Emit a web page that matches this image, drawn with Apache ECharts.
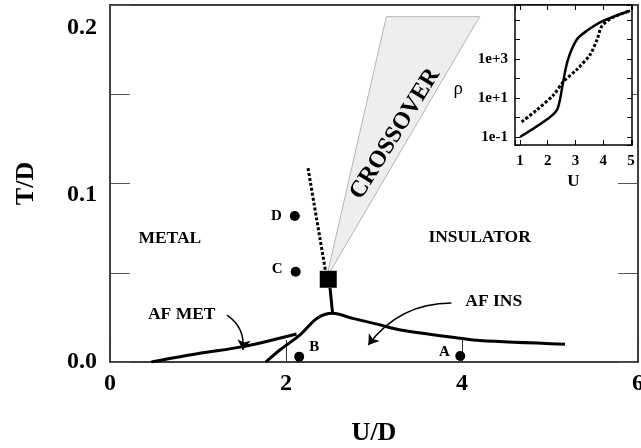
<!DOCTYPE html>
<html><head><meta charset="utf-8">
<script src="https://cdn.jsdelivr.net/npm/echarts@6/dist/echarts.min.js"></script>
<style>html,body{margin:0;padding:0;background:#fff}#c{width:641px;height:448px}</style>
</head><body><div id="c"></div>
<script>
const FONT = "'Liberation Serif','Times New Roman',serif";
// ---- main phase diagram data ----
const xTickValues = [0, 2, 4, 6];
const yTickLabels = ['0.0', '0.1', '0.2'];
const afBoundaryU = [1.77, 1.93, 2.16, 2.35, 2.53, 2.76, 3.07, 3.30, 3.98, 4.20, 5.17];
const afBoundaryT = [0, 0.0072, 0.0162, 0.0261, 0.0291, 0.0261, 0.0222, 0.0192, 0.0142, 0.0128, 0.0106];
const afMetU = [0.47, 1.02, 1.51, 2.12];
const afMetT = [0, 0.0052, 0.0092, 0.0168];
const connectorU = [2.50, 2.53];
const connectorT = [0.0443, 0.029];
const dottedU = [2.25, 2.46];
const dottedT = [0.116, 0.051];
const crossoverU = [2.46, 3.14, 4.20];
const crossoverT = [0.0503, 0.2066, 0.2066];
const criticalU = [2.48];
const criticalT = [0.0495];
const pointNames = ['A', 'B', 'C', 'D'];
const pointU = [3.98, 2.15, 2.11, 2.10];
const pointT = [0.0036, 0.0032, 0.054, 0.0874];
const pointLabelU = [3.80, 2.32, 1.90, 1.89];
const pointLabelT = [0.006, 0.009, 0.0557, 0.0874];
const regionNames = ['METAL', 'INSULATOR', 'AF MET', 'AF INS'];
const regionU = [0.68, 4.2, 0.815, 4.36];
const regionT = [0.0737, 0.0743, 0.0285, 0.0361];
const crossoverLabel = 'CROSSOVER';
const crossoverLabelU = [3.24];
const crossoverLabelT = [0.1365];
const arrowFromU = [1.33, 3.88];
const arrowFromT = [0.0281, 0.0353];
const arrowToU = [1.51, 2.935];
const arrowToT = [0.0072, 0.0102];
// ---- inset data ----
const insetXTicks = [1, 2, 3, 4, 5];
const insetYTickLabels = ['1e-1', '1e+1', '1e+3'];
const insetYTickValues = [0.1, 10, 1000];
const solidU = [1.0, 2.02, 2.33, 2.44, 2.55, 2.73, 3.05, 3.41, 4.0, 4.97];
const solidRho = [0.1, 0.9, 2.4, 8, 60, 930, 1e4, 2.8e4, 9e4, 3e5];
const dotU = [1.06, 1.6, 2.2, 2.57, 3.05, 3.53, 3.78, 3.96, 4.37, 4.97];
const dotRho = [0.6, 2.4, 14, 70, 290, 1700, 1e4, 5e4, 1.4e5, 3e5];

const pairs = (a, b) => a.map((v, i) => [v, b[i]]);
const bold = (size) => ({fontFamily: FONT, fontWeight: 'bold', fontSize: size, color: '#000'});
const hidden = {color: 'rgba(0,0,0,0)', opacity: 1};
const frameLine = {show: true, onZero: false, lineStyle: {color: '#000', width: 1.5}};

const chart = echarts.init(document.getElementById('c'), null, {renderer: 'canvas'});
const option = {
  animation: false,
  backgroundColor: '#fff',
  grid: [
    {left: 110, right: 3, top: 5, bottom: 86, containLabel: false, outerBoundsMode: 'none'},
    {left: 515, right: 9, top: 5, bottom: 303, containLabel: false, outerBoundsMode: 'none',
      show: true, backgroundColor: '#fff', borderWidth: 0, z: 10}
  ],
  xAxis: [
    {type: 'value', gridIndex: 0, position: 'bottom', min: 0, max: 6, interval: 2,
      axisLine: frameLine,
      axisTick: {inside: true, length: 22, lineStyle: {color: '#333', width: 1}},
      axisLabel: Object.assign(bold(24), {margin: 10, formatter: v => xTickValues.includes(v) ? String(v) : ''}),
      splitLine: {show: false},
      name: 'U/D', nameLocation: 'middle', nameGap: 58, nameTextStyle: bold(26)},
    {type: 'value', gridIndex: 0, position: 'top', min: 0, max: 6,
      axisLine: frameLine, axisTick: {show: false}, axisLabel: {show: false}, splitLine: {show: false}},
    {type: 'value', gridIndex: 1, position: 'bottom', min: 0.82, max: 5.04, z: 11,
      axisLine: frameLine,
      axisTick: {inside: true, length: 5, lineStyle: {color: '#000', width: 1}},
      axisLabel: Object.assign(bold(15), {margin: 9, formatter: v => {
        const r = Math.round(v); return (Math.abs(v - r) < 1e-6 && insetXTicks.includes(r)) ? String(r) : '';}}),
      splitLine: {show: false},
      name: 'U', nameLocation: 'middle', nameGap: 28, nameTextStyle: bold(17)},
    {type: 'value', gridIndex: 1, position: 'top', min: 0.82, max: 5.04, z: 11,
      axisLine: frameLine,
      axisTick: {inside: true, length: 5, lineStyle: {color: '#000', width: 1}},
      axisLabel: {show: false}, splitLine: {show: false}}
  ],
  yAxis: [
    {type: 'value', gridIndex: 0, position: 'left', min: 0, max: 0.2136, interval: 0.1,
      axisLine: frameLine, axisTick: {show: false},
      axisLabel: Object.assign(bold(24), {margin: 13, formatter: v => {
        const i = Math.round(v / 0.1); return (Math.abs(v - i * 0.1) < 1e-6 && i < yTickLabels.length) ? yTickLabels[i] : '';}}),
      splitLine: {show: false},
      name: 'T/D', nameLocation: 'middle', nameGap: 71, nameRotate: 90, nameTextStyle: bold(26)},
    {type: 'value', gridIndex: 0, position: 'left', min: 0, max: 4, interval: 1,
      axisLine: {show: false, onZero: false}, axisTick: {inside: true, length: 20, lineStyle: {color: '#555', width: 1}},
      axisLabel: {show: false}, splitLine: {show: false}},
    {type: 'value', gridIndex: 0, position: 'right', min: 0, max: 4, interval: 1,
      axisLine: frameLine,
      axisTick: {inside: true, length: 20, lineStyle: {color: '#555', width: 1}},
      axisLabel: {show: false}, splitLine: {show: false}},
    {type: 'log', gridIndex: 1, position: 'left', min: 0.039, max: 5.9e5, logBase: 10, z: 11,
      axisLine: frameLine,
      axisTick: {inside: true, length: 5, lineStyle: {color: '#000', width: 1}},
      axisLabel: Object.assign(bold(15), {margin: 7, formatter: v => {
        const i = insetYTickValues.findIndex(t => Math.abs(Math.log10(v) - Math.log10(t)) < 1e-6);
        return i >= 0 ? insetYTickLabels[i] : '';}}),
      splitLine: {show: false},
      name: '\nρ', nameLocation: 'middle', nameRotate: 0, nameGap: 52,
      nameTextStyle: {fontFamily: FONT, fontSize: 19, lineHeight: 28, color: '#000'}},
    {type: 'log', gridIndex: 1, position: 'right', min: 0.039, max: 5.9e5, logBase: 10, z: 11,
      axisLine: frameLine,
      axisTick: {inside: true, length: 5, lineStyle: {color: '#000', width: 1}},
      axisLabel: {show: false}, splitLine: {show: false}}
  ],
  series: [
    {type: 'custom', xAxisIndex: 0, yAxisIndex: 0, z: 1, silent: true,
      data: pairs(crossoverU, crossoverT), encode: {x: 0, y: 1},
      renderItem: (params, api) => params.dataIndex !== 0 ? null : {
        type: 'polygon',
        shape: {points: crossoverU.map((u, i) => api.coord([u, crossoverT[i]]))},
        style: {fill: '#eeeeee', stroke: '#b5b5b5', lineWidth: 1}
      }},
    {type: 'line', xAxisIndex: 0, yAxisIndex: 0, data: pairs(afBoundaryU, afBoundaryT), smooth: 0.3,
      symbol: 'none', lineStyle: {color: '#000', width: 3}},
    {type: 'line', xAxisIndex: 0, yAxisIndex: 0, data: pairs(afMetU, afMetT), smooth: 0.3,
      symbol: 'none', lineStyle: {color: '#000', width: 3}},
    {type: 'line', xAxisIndex: 0, yAxisIndex: 0, data: pairs(connectorU, connectorT),
      symbol: 'none', lineStyle: {color: '#000', width: 3}},
    {type: 'line', xAxisIndex: 0, yAxisIndex: 0, data: pairs(dottedU, dottedT),
      symbol: 'none', lineStyle: {color: '#000', width: 3, type: [3, 2]}},
    {type: 'lines', coordinateSystem: 'cartesian2d', xAxisIndex: 0, yAxisIndex: 0,
      symbol: ['none', 'arrow'], symbolSize: 10,
      lineStyle: {color: '#000', width: 1.5, curveness: 0.3, opacity: 1},
      data: [{coords: [[arrowFromU[0], arrowFromT[0]], [arrowToU[0], arrowToT[0]]]}]},
    {type: 'lines', coordinateSystem: 'cartesian2d', xAxisIndex: 0, yAxisIndex: 0,
      symbol: ['none', 'arrow'], symbolSize: 10,
      lineStyle: {color: '#000', width: 1.5, curveness: -0.25, opacity: 1},
      data: [{coords: [[arrowFromU[1], arrowFromT[1]], [arrowToU[1], arrowToT[1]]]}]},
    {type: 'scatter', xAxisIndex: 0, yAxisIndex: 0, symbol: 'circle', symbolSize: 10,
      itemStyle: {color: '#000', opacity: 1}, data: pairs(pointU, pointT)},
    {type: 'scatter', xAxisIndex: 0, yAxisIndex: 0, symbol: 'rect', symbolSize: 17,
      itemStyle: {color: '#000', opacity: 1}, data: pairs(criticalU, criticalT)},
    {type: 'scatter', xAxisIndex: 0, yAxisIndex: 0, symbolSize: 1, itemStyle: hidden,
      label: Object.assign(bold(15), {show: true, position: 'inside', formatter: p => pointNames[p.dataIndex]}),
      data: pairs(pointLabelU, pointLabelT)},
    {type: 'scatter', xAxisIndex: 0, yAxisIndex: 0, symbolSize: 1, itemStyle: hidden,
      label: Object.assign(bold(17.5), {show: true, position: 'inside', formatter: p => regionNames[p.dataIndex]}),
      data: pairs(regionU, regionT)},
    {type: 'scatter', xAxisIndex: 0, yAxisIndex: 0, symbolSize: 1, itemStyle: hidden,
      label: Object.assign(bold(24), {show: true, position: 'inside', rotate: 58, formatter: () => crossoverLabel}),
      data: pairs(crossoverLabelU, crossoverLabelT)},
    {type: 'line', xAxisIndex: 2, yAxisIndex: 3, z: 12, data: pairs(solidU, solidRho), smooth: 0.3,
      symbol: 'none', lineStyle: {color: '#000', width: 2.5}},
    {type: 'line', xAxisIndex: 2, yAxisIndex: 3, z: 12, data: pairs(dotU, dotRho), smooth: 0.3,
      symbol: 'none', lineStyle: {color: '#000', width: 3, type: [3, 2]}}
  ]
};
chart.setOption(option);
</script>
</body></html>
